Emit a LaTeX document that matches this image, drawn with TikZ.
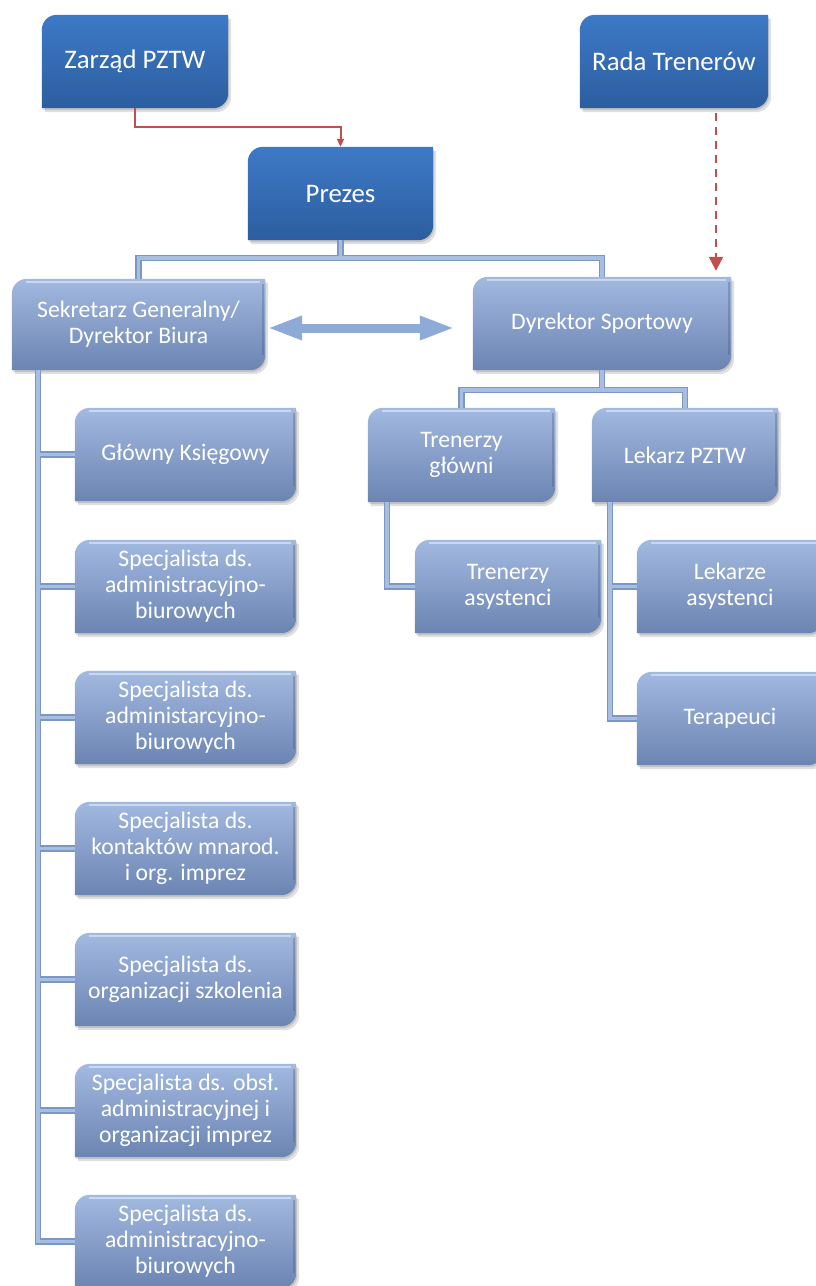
\documentclass[tikz,border=0pt]{standalone}
\usepackage{fontspec}
\setmainfont{Carlito}
\usetikzlibrary{arrows.meta,backgrounds}

\definecolor{darkbox}{HTML}{3D79C7}
\definecolor{darkboxlow}{HTML}{2C5E9F}
\definecolor{lightbox}{HTML}{A2B9E0}
\definecolor{lightboxmid}{HTML}{87A2CF}
\definecolor{lightboxlow}{HTML}{6B84B2}
\definecolor{treeline}{HTML}{7B97C4}
\definecolor{treefill}{HTML}{A7BEE1}
\definecolor{redline}{HTML}{C0504D}
\definecolor{arrowblue}{HTML}{8EABD8}

\begin{document}
\begin{tikzpicture}[x=1pt, y=-1pt,
  box/.style={minimum height=93pt, inner sep=2pt, align=center, text=white,
    font=\fontsize{23.7}{26}\selectfont},
  topbox/.style={box, font=\fontsize{26.8}{29}\selectfont},
  boxpath/.style={insert path={(#1.west) [rounded corners=15pt] -- (#1.north west)
    -- (#1.north) [sharp corners] -- (#1.north east) -- (#1.east)
    [rounded corners=15pt] -- (#1.south east) -- (#1.south) [sharp corners]
    -- (#1.south west) -- cycle}},
  tree/.style={draw=treeline, line width=1.3pt, double=treefill, double distance=3.5pt},
  biarrow/.style={draw=arrowblue, line width=9pt,
    {Triangle[length=35pt,width=22pt]}-{Triangle[length=35pt,width=22pt]}}]

\useasboundingbox (0,0) rectangle (816,1286);

% 1. Top boxes
\node[topbox, minimum width=186pt] (zarzad) at (135,61.5) {Zarząd PZTW};
\node[topbox, minimum width=188pt] (rada) at (674,61.5) {Rada Trenerów};
\node[topbox, minimum width=185pt] (prezes) at (340.5,193.5) {Prezes};

% 2. Second level
\node[box, minimum width=253pt, minimum height=91pt] (sekretarz) at (138.5,324.5) {Sekretarz Generalny/\\Dyrektor Biura};
\node[box, minimum width=258pt] (dyrektor) at (602,323.5) {Dyrektor Sportowy};

% 3. Office staff
\node[box, minimum width=221pt] (ksiegowy) at (185.5,454.5) {Główny Księgowy};
\node[box, minimum width=221pt] (spec1) at (185.5,586.5) {Specjalista ds.\\administracyjno-\\biurowych};
\node[box, minimum width=221pt] (spec2) at (185.5,717.5) {Specjalista ds.\\administarcyjno-\\biurowych};
\node[box, minimum width=221pt] (spec3) at (185.5,848.5) {Specjalista ds.\\kontaktów mnarod.\\i org. imprez};
\node[box, minimum width=221pt] (spec4) at (185.5,979.5) {Specjalista ds.\\organizacji szkolenia};
\node[box, minimum width=221pt] (spec5) at (185.5,1110.5) {Specjalista ds. obsł.\\administracyjnej i\\organizacji imprez};
\node[box, minimum width=221pt] (spec6) at (185.5,1241.5) {Specjalista ds.\\administracyjno-\\biurowych};

% 4. Sport staff
\node[box, minimum width=187pt, minimum height=94pt] (trenerzy) at (461.5,455) {Trenerzy\\główni};
\node[box, minimum width=186pt, minimum height=94pt] (lekarz) at (685,455) {Lekarz PZTW};
\node[box, minimum width=186pt] (trasyst) at (508,586.5) {Trenerzy\\asystenci};
\node[box, minimum width=186pt] (lekasyst) at (730,586.5) {Lekarze\\asystenci};
\node[box, minimum width=186pt] (terapeuci) at (730,718.5) {Terapeuci};

% 5. Box shapes behind the texts
\begin{scope}[on background layer]
  \fill[white] (0,0) rectangle (816,1286);
  \foreach \n in {zarzad,rada,prezes,sekretarz,dyrektor,ksiegowy,spec1,spec2,spec3,
      spec4,spec5,spec6,trenerzy,lekarz,trasyst,lekasyst,terapeuci} {
    \fill[black, opacity=.12, transform canvas={xshift=1pt,yshift=-2pt}, boxpath=\n];
    \fill[black, opacity=.12, transform canvas={xshift=3pt,yshift=-4pt}, boxpath=\n];
  }
  \foreach \n in {zarzad,rada,prezes}
    \shade[top color=darkbox, bottom color=darkboxlow, boxpath=\n];
  \foreach \n in {sekretarz,dyrektor,ksiegowy,spec1,spec2,spec3,spec4,spec5,spec6,
      trenerzy,lekarz,trasyst,lekasyst,terapeuci} {
    \shade[top color=lightbox, middle color=lightboxmid, bottom color=lightboxlow, boxpath=\n];
    \draw[white, opacity=.45, line width=2pt] ([xshift=14pt,yshift=-3pt]\n.north west)
      -- ([xshift=-5pt,yshift=-3pt]\n.north east);
    \draw[lightboxlow!70!black, opacity=.35, line width=2pt] ([xshift=-2pt,yshift=-5pt]\n.north east)
      -- ([xshift=-2pt,yshift=15pt]\n.south east);
  }
\end{scope}

% 6. Red links
\draw[redline, line width=2pt, -{Triangle[length=8pt,width=7pt]}] (zarzad.south) -- ++(0,19) -| (prezes.north);
\coordinate (dashx) at (716,0);
\draw[redline, line width=2.2pt, dash pattern=on 8pt off 6pt, shorten <=5pt, shorten >=6pt,
  -{Triangle[length=14pt,width=14pt]}] (rada.south -| dashx) -- (dyrektor.north -| dashx);

% 7. Tree lines
\draw[tree] (prezes.south) -- ++(0,18) coordinate (pj) (sekretarz.north) |- (pj) -| (dyrektor.north);
\coordinate (sp) at ([xshift=26pt]sekretarz.south west);
\draw[tree] (sp) |- (spec6.west)
  foreach \n in {ksiegowy,spec1,spec2,spec3,spec4,spec5} {(sp |- \n.west) -- (\n.west)};
\draw[tree] (dyrektor.south) -- ++(0,20) coordinate (dj) (trenerzy.north) |- (dj) -| (lekarz.north);
\coordinate (tp) at ([xshift=19pt]trenerzy.south west);
\draw[tree] (tp) |- (trasyst.west);
\coordinate (lp) at ([xshift=18pt]lekarz.south west);
\draw[tree] (lp) |- (terapeuci.west) (lp |- lekasyst.west) -- (lekasyst.west);

% 8. Two-way arrow
\coordinate (arrl) at ([xshift=2pt,yshift=-3.5pt]sekretarz.east);
\draw[biarrow, shorten >=18pt] (arrl) -- (arrl -| dyrektor.west);

\end{tikzpicture}
\end{document}
